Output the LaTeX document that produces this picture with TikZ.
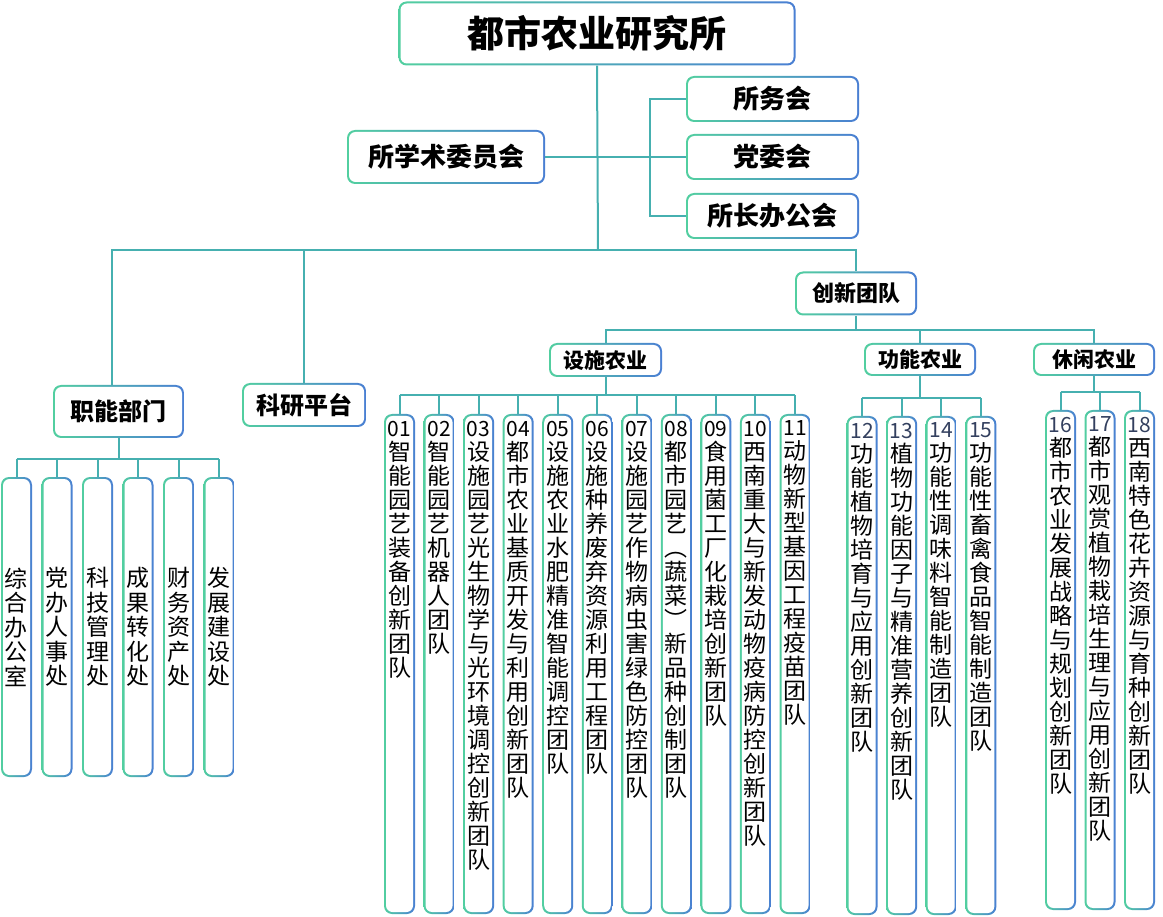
\documentclass[tikz,border=0pt]{standalone}
\usepackage{fontspec}
\setmainfont{Noto Sans CJK SC}
\definecolor{edgeA}{HTML}{52CFA0}
\definecolor{edgeB}{HTML}{4A7FD3}
\definecolor{linkc}{HTML}{46B0B0}
\definecolor{numc}{HTML}{33405F}
\makeatletter
\newcommand\vcharsloop[1]{\def\vbuild{}%
  \@tfor\vc:=#1\do{\ifx\vbuild\@empty\edef\vbuild{\vc}\else
    \edef\vbuild{\unexpanded\expandafter{\vbuild}\noexpand\\\vc}\fi}%
  \vbuild}
\makeatother
\newcommand\vchars[1]{\edef\vtmp{#1}\expandafter\vcharsloop\expandafter{\vtmp}}
\begin{document}
\begin{tikzpicture}[x=1pt,y=-1pt,
  card/.style={rounded corners=8,left color=edgeA,right color=edgeB,
    path picture={\fill[white,rounded corners=6.5]
      ([shift={(2pt,2pt)}]path picture bounding box.south west) rectangle
      ([shift={(-2pt,-2pt)}]path picture bounding box.north east);}},
  head/.style={card,inner sep=0pt},
  dept/.style={card,inner sep=0pt,minimum width=31,minimum height=300,align=center,font=\fontsize{23}{24.5}\selectfont},
  team/.style={card,inner sep=0pt,minimum width=31,minimum height=500},
  vtext/.style={anchor=north,yshift=-7pt,inner sep=0pt,align=center,font=\fontsize{23}{24}\selectfont},
  link/.style={draw=linkc,line width=2pt}]
\useasboundingbox (0,0) rectangle (1163,917);

% top level
\node[head,minimum width=397,minimum height=64,font=\fontsize{37}{40}\selectfont\bfseries] (inst) at (597,33.5) {都市农业研究所};
\node[head,minimum width=198,minimum height=54,font=\fontsize{26}{28}\selectfont\bfseries] (acad) at (446,157) {所学术委员会};
\node[head,minimum width=173,minimum height=46,font=\fontsize{26}{28}\selectfont\bfseries] (affair) at (772.5,99) {所务会};
\node[head,minimum width=173,minimum height=46,font=\fontsize{26}{28}\selectfont\bfseries] (party) at (772.5,157) {党委会};
\node[head,minimum width=173,minimum height=46,font=\fontsize{26}{28}\selectfont\bfseries] (office) at (772.5,216) {所长办公会};
\coordinate (brk) at (650,157);
\coordinate (bus) at (598,250);
\draw[link] (inst.south) -- (bus);
\draw[link] (acad.east) -- (party.west);
\draw[link] (affair.west) -| (brk) |- (office.west);

% second level
\node[head,minimum width=131,minimum height=53,font=\fontsize{24}{26}\selectfont\bfseries] (dept) at (118.5,411.5) {职能部门};
\node[head,minimum width=124,minimum height=44,font=\fontsize{24}{26}\selectfont\bfseries] (plat) at (304,405) {科研平台};
\node[head,minimum width=122,minimum height=44,font=\fontsize{22}{24}\selectfont\bfseries] (inno) at (856,293.5) {创新团队};
\draw[link] ([xshift=-6.5pt]dept.north) |- (bus) -| (inno.north);
\draw[link] (plat.north) -- (plat.north |- bus);

% team groups
\node[head,minimum width=113,minimum height=34,font=\fontsize{21}{23}\selectfont\bfseries] (fac) at (605.5,360) {设施农业};
\node[head,minimum width=112,minimum height=33,font=\fontsize{21}{23}\selectfont\bfseries] (fun) at (920,359.5) {功能农业};
\node[head,minimum width=122,minimum height=33,font=\fontsize{21}{23}\selectfont\bfseries] (lei) at (1094,359.5) {休闲农业};
\coordinate (tbus) at (856,330);
\draw[link] (inno.south) -- (tbus);
\draw[link] (fac.north) |- (tbus) -| (lei.north);
\draw[link] (fun.north) -- (fun.north |- tbus);

% departments
\foreach \ttl [count=\i] in {综合办公室,党办人事处,科技管理处,成果转化处,财务资产处,发展建设处}
  \node[dept] (d\i) at ({16.5+40.5*(\i-1)},627) {\vchars{\ttl}};
\coordinate (dbus) at (0,459);
\draw[link] (dept.south) -- (dept.south |- dbus);
\draw[link] (d1.north |- dbus) -- (d6.north |- dbus);
\foreach \i in {1,...,6} \draw[link] (d\i.north) -- (d\i.north |- dbus);

% facility teams
\foreach \tid/\ttl [count=\i] in {01/智能园艺装备创新团队,02/智能园艺机器人团队,
    03/设施园艺光生物学与光环境调控创新团队,04/都市农业基质开发与利用创新团队,
    05/设施农业水肥精准智能调控团队,06/设施种养废弃资源利用工程团队,
    07/设施园艺作物病虫害绿色防控团队,08/都市园艺︵蔬菜︶新品种创制团队,
    09/食用菌工厂化栽培创新团队,10/西南重大与新发动物疫病防控创新团队,
    11/动物新型基因工程疫苗团队}
  \node[team,label={[vtext]north:{\fontsize{21}{21}\selectfont\tid}\\\vchars{\ttl}}] (f\i) at ({399.5+39.55*(\i-1)},664) {};
\coordinate (fbus) at (0,395);
\draw[link] (fac.south) -- (fac.south |- fbus);
\draw[link] (f1.north |- fbus) -- (f11.north |- fbus);
\foreach \i in {1,...,11} \draw[link] (f\i.north) -- (f\i.north |- fbus);

% functional teams
\foreach \tid/\ttl [count=\i] in {12/功能植物培育与应用创新团队,13/植物功能因子与精准营养创新团队,
    14/功能性调味料智能制造团队,15/功能性畜禽食品智能制造团队}
  \node[team,minimum height=499,label={[vtext]north:{\color{numc}\fontsize{21}{21}\selectfont\tid}\\\vchars{\ttl}}] (g\i) at ({862+39.6*(\i-1)},665.5) {};
\coordinate (gbus) at (0,398);
\draw[link] (fun.south) -- (fun.south |- gbus);
\draw[link] (g1.north |- gbus) -- (g4.north |- gbus);
\foreach \i in {1,...,4} \draw[link] (g\i.north) -- (g\i.north |- gbus);

% leisure teams
\foreach \tid/\ttl [count=\i] in {16/都市农业发展战略与规划创新团队,17/都市观赏植物栽培生理与应用创新团队,
    18/西南特色花卉资源与育种创新团队}
  \node[team,label={[vtext]north:{\color{numc}\fontsize{21}{21}\selectfont\tid}\\\vchars{\ttl}}] (h\i) at ({1060.5+39.5*(\i-1)},660) {};
\coordinate (hbus) at (0,392);
\draw[link] (lei.south) -- (lei.south |- hbus);
\draw[link] (h1.north |- hbus) -- (h3.north |- hbus);
\foreach \i in {1,...,3} \draw[link] (h\i.north) -- (h\i.north |- hbus);
\end{tikzpicture}
\end{document}
